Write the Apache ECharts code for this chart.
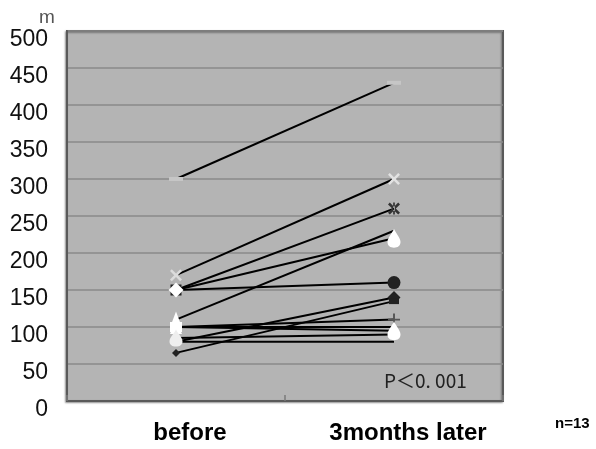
<!DOCTYPE html>
<html>
<head>
<meta charset="utf-8">
<script src="https://cdn.jsdelivr.net/npm/echarts@6/dist/echarts.min.js"></script>
<style>
html,body{margin:0;padding:0;background:#fff;}
#chart{width:596px;height:449px;}
</style>
</head>
<body>
<div id="chart"></div>
<script>
// ---- data ----
const categories = ['before', '3months later'];
const beforeValues = [300, 170, 150, 150, 150, 110, 100, 100, 100, 85, 80, 80, 65];
const afterValues  = [430, 300, 260, 160, 220, 230, 110, 100, 95, 90, 140, 80, 135];
const yTicks = [0, 50, 100, 150, 200, 250, 300, 350, 400, 450, 500];
const pText = 'P\uFF1C0. 001';
const nText = 'n=13';
const unitText = 'm';

// ---- marker styles (per subject: [before marker, after marker]) ----
const X_PATH = 'path://M1.5,0L5,3.5L8.5,0L10,1.5L6.5,5L10,8.5L8.5,10L5,6.5L1.5,10L0,8.5L3.5,5L0,1.5Z';
const PLUS_PATH = 'path://M4.2,0L5.8,0L5.8,4.2L10,4.2L10,5.8L5.8,5.8L5.8,10L4.2,10L4.2,5.8L0,5.8L0,4.2L4.2,4.2Z';
const STAR_PATH = 'path://M1.5,0L5,3.5L8.5,0L10,1.5L6.5,5L10,8.5L8.5,10L5,6.5L1.5,10L0,8.5L3.5,5L0,1.5Z M4.3,0L4.3,10L5.7,10L5.7,0Z';
const DROP_PATH = 'path://M5,0C6,3 10,7 10,10.5C10,13.5 7.8,15 5,15C2.2,15 0,13.5 0,10.5C0,7 4,3 5,0Z';
const markers = [
  [{s:'rect', z:[14,4], c:'#c6c6c6', b:'#c6c6c6'}, {s:'rect', z:[14,4], c:'#c6c6c6', b:'#c6c6c6'}],
  [{s:X_PATH, z:12, c:'#dcdcdc', b:'#dcdcdc'}, {s:X_PATH, z:12, c:'#e2e2e2', b:'#e2e2e2'}],
  [{s:'none'}, {s:STAR_PATH, z:12, c:'#333', b:'#333'}],
  [{s:'rect', z:11, c:'#222', b:'#222'}, {s:'circle', z:13, c:'#222', b:'#222'}],
  [{s:'diamond', z:15, c:'#fff', b:'#fff'}, {s:DROP_PATH, z:[13,19], c:'#fff', b:'#fff'}],
  [{s:'triangle', z:[12,16], c:'#fff', b:'#fff'}, {s:'none'}],
  [{s:'triangle', z:[12,14], c:'#fff', b:'#fff'}, {s:PLUS_PATH, z:12, c:'#555', b:'#555'}],
  [{s:'rect', z:[12,10], c:'#fff', b:'#fff'}, {s:'none'}],
  [{s:'none'}, {s:DROP_PATH, z:[13,19], c:'#fff', b:'#fff'}],
  [{s:DROP_PATH, z:[13,17], c:'#eee', b:'#eee'}, {s:'none'}],
  [{s:'none'}, {s:'diamond', z:13, c:'#222', b:'#222'}],
  [{s:'none'}, {s:'none'}],
  [{s:'diamond', z:8, c:'#222', b:'#222'}, {s:'rect', z:[10,6], c:'#222', b:'#222'}]
];

function point(v, m) {
  const o = {value: v, symbol: m.s};
  if (m.s !== 'none') {
    o.symbolSize = m.z;
    o.itemStyle = {color: m.c, borderColor: m.b, borderWidth: 0, opacity: 1};
  }
  return o;
}

const series = beforeValues.map((b, i) => ({
  type: 'line',
  data: [point(b, markers[i][0]), point(afterValues[i], markers[i][1])],
  lineStyle: {color: '#000', width: 2},
  z: 2,
  animation: false,
  silent: true
}));

const chart = echarts.init(document.getElementById('chart'));
chart.setOption({
  animation: false,
  backgroundColor: '#ffffff',
  grid: {
    left: 67, top: 31, width: 436, height: 370,
    show: true, backgroundColor: '#b4b4b4',
    borderColor: '#5a5a5a', borderWidth: 2,
    shadowColor: 'rgba(0,0,0,0.35)', shadowBlur: 2, shadowOffsetX: -1, shadowOffsetY: 1
  },
  xAxis: {
    type: 'category',
    data: categories,
    boundaryGap: true,
    axisLine: {show: true, lineStyle: {color: '#5a5a5a', width: 2}},
    axisTick: {show: true, inside: true, length: 6, lineStyle: {color: '#7a7a7a', width: 1.5}},
    axisLabel: {
      color: '#000', fontSize: 24, fontWeight: 'bold',
      fontFamily: 'Liberation Sans, Arial, sans-serif',
      margin: 20, padding: [0, 0, 0, 28]
    },
    splitLine: {show: false}
  },
  yAxis: {
    type: 'value',
    min: 0, max: 500, interval: 50,
    axisLine: {show: true, lineStyle: {color: '#5a5a5a', width: 2}},
    axisTick: {show: false},
    axisLabel: {
      color: '#111', fontSize: 23,
      fontFamily: 'Liberation Sans, Arial, sans-serif',
      margin: 19, verticalAlign: 'top', lineHeight: 18,
      formatter: v => (yTicks.indexOf(v) >= 0 ? String(v) : '')
    },
    splitLine: {show: true, lineStyle: {color: '#8a8a8a', width: 1.5}}
  },
  graphic: [
    {type: 'text', left: 39, top: 8, style: {text: unitText, fontSize: 19, fill: '#555', fontFamily: 'Liberation Sans, Arial, sans-serif'}},
    {type: 'text', left: 384, top: 371, style: {text: pText, fontSize: 19, fill: '#222', fontFamily: 'Noto Sans CJK JP, sans-serif'}},
    {type: 'text', left: 555, top: 416, style: {text: nText, fontSize: 15, fontWeight: 'bold', fill: '#000', fontFamily: 'Liberation Sans, Arial, sans-serif'}}
  ],
  series: series
});
</script>
</body>
</html>
